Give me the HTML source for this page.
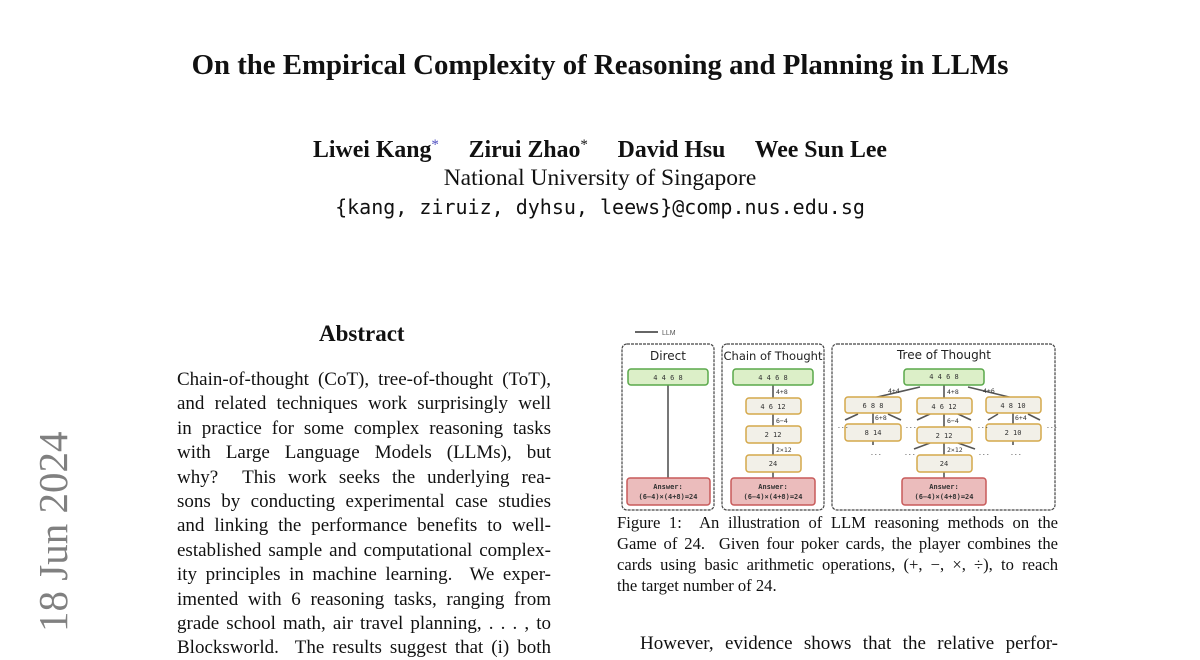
<!DOCTYPE html>
<html><head><meta charset="utf-8"><style>
body{margin:0;width:1200px;height:648px;overflow:hidden;background:#fff;position:relative;font-family:"Liberation Serif",serif;color:#111}
.a{position:absolute;white-space:nowrap}
.c{position:absolute;left:0;width:1200px;text-align:center;white-space:nowrap}
.j{position:absolute;left:177px;width:374px;font-size:19px;text-align:justify;text-align-last:justify;white-space:nowrap;height:24px;line-height:24px}
.k{position:absolute;left:617px;width:441px;font-size:16.6px;text-align:justify;text-align-last:justify;white-space:nowrap;line-height:20px}
</style></head><body>
<div class="c" style="top:49px;font-size:28.8px;font-weight:bold">On the Empirical Complexity of Reasoning and Planning in LLMs</div>
<div class="c" style="top:137px;font-size:23.8px;font-weight:bold">Liwei Kang<span style="color:#5050c0;font-weight:normal;font-size:15px;vertical-align:top">*</span>&nbsp;&nbsp;&nbsp;&nbsp; Zirui Zhao<span style="font-weight:normal;font-size:15px;vertical-align:top">*</span>&nbsp;&nbsp;&nbsp;&nbsp; David Hsu&nbsp;&nbsp;&nbsp;&nbsp; Wee Sun Lee</div>
<div class="c" style="top:165px;font-size:23.5px">National University of Singapore</div>
<div class="c" style="top:195px;font-size:20px;font-family:'DejaVu Sans Mono','Liberation Mono',monospace">{kang, ziruiz, dyhsu, leews}@comp.nus.edu.sg</div>
<div class="a" style="left:319px;top:321px;font-size:23px;font-weight:bold">Abstract</div>
<div class="a" style="left:32px;top:632px;transform:rotate(-90deg);transform-origin:0 0;font-size:41px;color:#808080;line-height:42px">18 Jun 2024</div>
<div class="j" style="top:368px">Chain-of-thought (CoT), tree-of-thought (ToT),</div>
<div class="j" style="top:392px">and related techniques work surprisingly well</div>
<div class="j" style="top:417px">in practice for some complex reasoning tasks</div>
<div class="j" style="top:441px">with Large Language Models (LLMs), but</div>
<div class="j" style="top:466px">why? &nbsp;This work seeks the underlying rea-</div>
<div class="j" style="top:490px">sons by conducting experimental case studies</div>
<div class="j" style="top:514px">and linking the performance benefits to well-</div>
<div class="j" style="top:539px">established sample and computational complex-</div>
<div class="j" style="top:563px">ity principles in machine learning. &nbsp;We exper-</div>
<div class="j" style="top:588px">imented with 6 reasoning tasks, ranging from</div>
<div class="j" style="top:612px">grade school math, air travel planning, . . . , to</div>
<div class="j" style="top:636px">Blocksworld. &nbsp;The results suggest that (i) both</div>
<div class="k" style="top:513px">Figure 1: &nbsp;An illustration of LLM reasoning methods on the</div>
<div class="k" style="top:534px">Game of 24. &nbsp;Given four poker cards, the player combines the</div>
<div class="k" style="top:555px">cards using basic arithmetic operations, (+, −, ×, ÷), to reach</div>
<div class="a" style="left:617px;top:576px;font-size:16.6px;line-height:20px">the target number of 24.</div>
<div class="a" style="left:640px;top:633px;font-size:19px;width:418px;text-align:justify;text-align-last:justify">However, evidence shows that the relative perfor-</div>
<svg class="a" style="left:0;top:0" width="1200" height="648" font-family="DejaVu Sans Mono,monospace">
<g stroke="#444" stroke-width="1.2" fill="none">
<line x1="635" y1="332" x2="658" y2="332" stroke-width="2" stroke="#666"/>
<rect x="622" y="344" width="92" height="166" rx="5" stroke-dasharray="3 1"/>
<rect x="722" y="344" width="102" height="166" rx="5" stroke-dasharray="3 1"/>
<rect x="832" y="344" width="223" height="166" rx="5" stroke-dasharray="3 1"/>
</g>
<text x="662" y="335" font-size="7" fill="#555" font-family="Liberation Sans">LLM</text>
<g font-family="DejaVu Sans,sans-serif" font-size="12" fill="#222" text-anchor="middle">
<text x="668" y="360">Direct</text><text x="773" y="360" font-size="11.5">Chain of Thought</text><text x="944" y="359">Tree of Thought</text></g>
<g stroke="#555" stroke-width="1.6">
<line x1="668" y1="385" x2="668" y2="478"/>
<line x1="773" y1="385" x2="773" y2="478"/>
<line x1="944" y1="384" x2="944" y2="478"/>
<line x1="920" y1="387" x2="873" y2="398"/><line x1="968" y1="387" x2="1013" y2="398"/>
<line x1="873" y1="413" x2="873" y2="424"/><line x1="1013" y1="413" x2="1013" y2="424"/>
<line x1="858" y1="414" x2="845" y2="420"/><line x1="888" y1="414" x2="901" y2="420"/>
<line x1="930" y1="414" x2="917" y2="420"/><line x1="958" y1="414" x2="971" y2="420"/>
<line x1="998" y1="414" x2="988" y2="420"/><line x1="1028" y1="414" x2="1040" y2="420"/>
<line x1="930" y1="443" x2="914" y2="449"/><line x1="958" y1="443" x2="975" y2="449"/>
<line x1="873" y1="441" x2="873" y2="445"/><line x1="1013" y1="441" x2="1013" y2="445"/>
</g>
<g stroke-width="1.5">
<g fill="#dcefc8" stroke="#5aa84a">
<rect x="628" y="369" width="80" height="16" rx="3"/><rect x="733" y="369" width="80" height="16" rx="3"/><rect x="904" y="369" width="80" height="16" rx="3"/></g>
<g fill="#f2f0e8" stroke="#d4a84a">
<rect x="746" y="398" width="55" height="16" rx="3"/><rect x="746" y="426" width="55" height="17" rx="3"/><rect x="746" y="455" width="55" height="17" rx="3"/>
<rect x="917" y="398" width="55" height="16" rx="3"/><rect x="917" y="427" width="55" height="16" rx="3"/><rect x="917" y="455" width="55" height="17" rx="3"/>
<rect x="845" y="397" width="56" height="16" rx="3"/><rect x="845" y="424" width="56" height="17" rx="3"/>
<rect x="986" y="397" width="55" height="16" rx="3"/><rect x="986" y="424" width="55" height="17" rx="3"/></g>
<g fill="#ebbcbc" stroke="#c85a5a">
<rect x="627" y="478" width="83" height="27" rx="3"/><rect x="731" y="478" width="84" height="27" rx="3"/><rect x="902" y="478" width="84" height="27" rx="3"/></g>
</g>
<g font-size="7" fill="#333" text-anchor="middle">
<text x="668" y="380">4 4 6 8</text><text x="773" y="380">4 4 6 8</text><text x="944" y="379">4 4 6 8</text>
<text x="773" y="409">4 6 12</text><text x="773" y="437">2 12</text><text x="773" y="466">24</text>
<text x="944" y="409">4 6 12</text><text x="944" y="438">2 12</text><text x="944" y="466">24</text>
<text x="873" y="408">6 8 8</text><text x="873" y="435">8 14</text>
<text x="1013" y="408">4 8 10</text><text x="1013" y="435">2 10</text>
<g font-weight="bold"><text x="668" y="489">Answer:</text><text x="668" y="499">(6−4)×(4+8)=24</text>
<text x="773" y="489">Answer:</text><text x="773" y="499">(6−4)×(4+8)=24</text>
<text x="944" y="489">Answer:</text><text x="944" y="499">(6−4)×(4+8)=24</text></g>
</g>
<g font-size="6.5" fill="#333">
<text x="776" y="394">4+8</text><text x="776" y="423">6−4</text><text x="776" y="452">2×12</text>
<text x="947" y="394">4+8</text><text x="947" y="423">6−4</text><text x="947" y="452">2×12</text>
<text x="888" y="393">4+4</text><text x="983" y="393">4+6</text>
<text x="875" y="420">6+8</text><text x="1015" y="420">6+4</text>
<text x="837" y="428">...</text><text x="905" y="428">...</text><text x="977" y="428">...</text><text x="1046" y="428">...</text>
<text x="870" y="455">...</text><text x="904" y="455">...</text><text x="978" y="455">...</text><text x="1010" y="455">...</text>
</g>
</svg>
</body></html>
